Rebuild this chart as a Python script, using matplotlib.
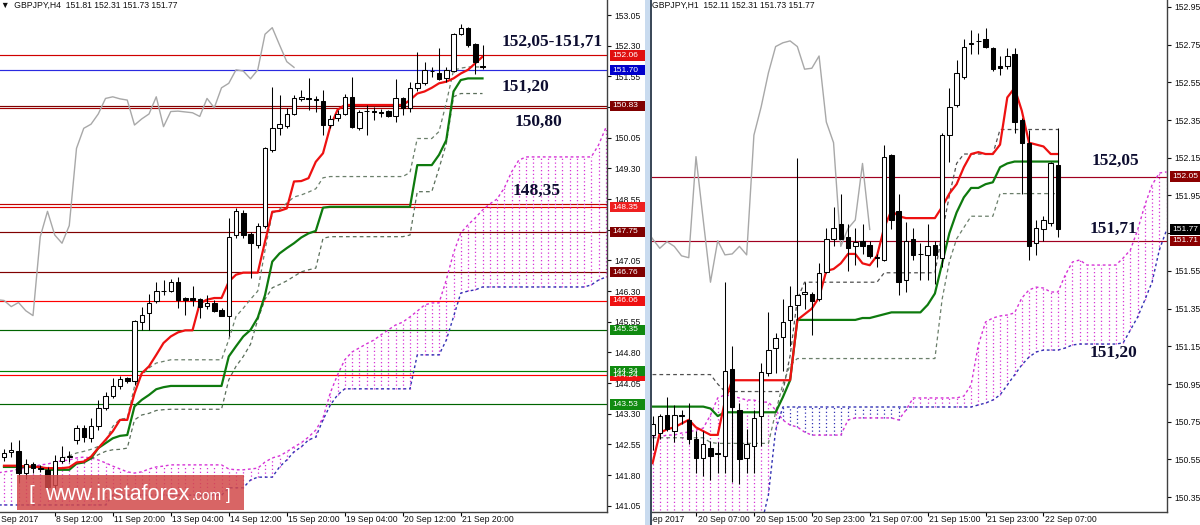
import numpy as np
import matplotlib
matplotlib.use("Agg")
import matplotlib.pyplot as plt
from matplotlib.patches import Rectangle
import matplotlib.transforms as mtransforms

plt.rcParams['font.family'] = ['Liberation Sans', 'DejaVu Sans']

# ---------------- H4 panel data (bars 1..67) ----------------
h4_open = [142.25, 142.36, 142.40, 141.85, 142.07, 141.97, 141.93, 141.55, 142.14, 142.25,
           142.66, 142.95, 142.70, 143.00, 143.45, 143.74, 143.97, 144.17, 144.09, 145.55,
           145.76, 146.05, 146.30, 146.31, 146.51, 146.12, 146.14, 146.10, 145.94, 146.02,
           145.84, 145.70, 147.67, 148.20, 147.69, 147.43, 147.88, 149.75, 150.28, 150.34,
           150.62, 151.00, 151.02, 150.99, 150.95, 150.36, 150.54, 150.63, 151.05, 150.28,
           150.70, 150.70, 150.67, 150.70, 150.57, 151.01, 150.77, 151.27, 151.38, 151.69,
           151.62, 151.50, 151.68, 152.58, 152.74, 152.33, 151.81]
h4_high = [142.45, 142.62, 142.66, 142.20, 142.13, 142.05, 142.00, 142.30, 142.52, 142.38,
           143.03, 143.03, 143.20, 143.64, 143.84, 144.17, 144.23, 144.20, 145.60, 145.92,
           146.23, 146.51, 146.56, 146.59, 146.64, 146.16, 146.43, 146.13, 146.21, 146.09,
           145.88, 148.08, 148.33, 148.28, 147.75, 147.96, 149.83, 151.30, 151.09, 150.77,
           151.09, 151.22, 151.50, 151.08, 151.22, 150.60, 150.73, 151.13, 151.54, 150.73,
           150.85, 150.81, 150.75, 150.72, 151.49, 151.05, 151.42, 152.15, 151.91, 151.79,
           152.24, 151.79, 152.60, 152.82, 152.76, 152.36, 152.31]
h4_low = [142.15, 142.25, 141.60, 141.70, 141.85, 141.88, 141.45, 141.45, 142.09, 142.13,
          142.57, 142.62, 142.62, 142.91, 143.40, 143.68, 143.90, 144.05, 144.00, 145.35,
          145.35, 146.00, 146.21, 146.27, 145.88, 145.72, 145.94, 145.64, 145.86, 145.80,
          145.68, 145.19, 147.59, 147.60, 146.61, 147.35, 147.83, 149.71, 150.12, 150.28,
          150.60, 150.95, 150.73, 150.69, 150.12, 150.28, 150.46, 150.60, 150.28, 150.24,
          150.12, 150.48, 150.55, 150.56, 150.44, 150.60, 150.69, 151.18, 151.34, 151.54,
          151.46, 151.42, 151.66, 152.56, 152.28, 151.60, 151.73]
h4_close = [142.35, 142.42, 141.85, 142.08, 141.97, 141.95, 141.52, 142.15, 142.25, 142.27,
            142.95, 142.74, 143.00, 143.44, 143.74, 143.98, 144.15, 144.09, 145.56, 145.72,
            146.02, 146.31, 146.31, 146.53, 146.09, 146.09, 146.07, 145.92, 146.02, 145.82,
            145.70, 147.63, 148.25, 147.67, 147.47, 147.90, 149.79, 150.28, 150.38, 150.63,
            151.01, 151.05, 151.00, 150.97, 150.36, 150.51, 150.63, 151.05, 150.32, 150.69,
            150.70, 150.68, 150.66, 150.57, 151.01, 150.78, 151.27, 151.38, 151.71, 151.68,
            151.49, 151.71, 152.58, 152.74, 152.32, 151.91, 151.77]
h4_tenkan = [142.03, 142.03, 142.03, 142.01, 142.01, 141.99, 141.97, 141.97, 141.97, 141.99,
             142.11, 142.13, 142.25, 142.46, 142.66, 142.87, 143.15, 143.15, 143.80, 144.29,
             144.46, 144.74, 145.03, 145.19, 145.29, 145.34, 145.34, 146.00, 146.09, 146.13,
             146.13, 146.53, 146.70, 146.75, 146.75, 146.75, 147.51, 148.24, 148.26, 148.32,
             148.98, 148.99, 149.06, 149.46, 149.67, 150.32, 150.73, 150.85, 150.85, 150.85,
             150.85, 150.85, 150.85, 150.85, 150.85, 150.85, 150.97, 151.13, 151.18, 151.27,
             151.38, 151.42, 151.50, 151.62, 151.71, 151.87, 152.03]
h4_kijun = [142.00, 142.00, 142.00, 142.00, 142.00, 142.00, 141.93, 141.93, 141.93, 141.93,
            142.08, 142.11, 142.21, 142.46, 142.58, 142.70, 142.76, 142.78, 143.48, 143.64,
            143.76, 143.90, 143.95, 143.98, 143.98, 143.98, 143.98, 143.98, 143.98, 143.98,
            143.98, 144.70, 144.95, 145.19, 145.35, 145.65, 146.20, 147.02, 147.22, 147.35,
            147.47, 147.61, 147.71, 147.77, 148.34, 148.36, 148.36, 148.36, 148.36, 148.36,
            148.36, 148.36, 148.36, 148.36, 148.36, 148.36, 148.36, 149.38, 149.38, 149.38,
            149.63, 149.99, 151.18, 151.46, 151.50, 151.50, 151.50]
# cloud, bars 0..84
h4_span_a = [141.85, 141.88, 141.90, 141.95, 141.97, 142.00, 142.05, 142.07, 142.12, 142.15,
             142.17, 142.22, 142.24, 142.22, 142.17, 142.10, 142.02, 141.95, 141.88, 141.85,
             141.88, 141.95, 142.00, 142.02, 142.05, 142.05, 142.05, 142.05, 142.05, 142.05,
             142.05, 142.05, 141.95, 141.93, 141.93, 141.95, 141.97, 142.12, 142.22, 142.27,
             142.37, 142.49, 142.59, 142.73, 142.90, 143.20, 143.81, 144.25, 144.62, 144.81,
             144.91, 145.01, 145.10, 145.23, 145.35, 145.47, 145.54, 145.67, 145.81, 145.96,
             146.01, 146.01, 146.57, 147.23, 147.72, 147.92, 148.09, 148.28, 148.43, 148.55,
             148.82, 149.21, 149.50, 149.58, 149.58, 149.58, 149.58, 149.58, 149.58, 149.58,
             149.58, 149.58, 149.58, 149.87, 150.29]
h4_span_b = ([141.07] * 16 + [141.31] * 16 + [141.49] * 3 + [141.68] + [141.75] * 3 +
             [142.00, 142.17, 142.37, 142.49, 142.66, 142.73, 143.15, 143.51, 143.76] +
             [143.91] * 10 + [144.74] * 4 + [145.10, 145.67, 146.25, 146.30, 146.33] +
             [146.40] * 15 + [146.45, 146.57, 146.64])
# dashed lines (upper from bar 9, lower from bar 13)
h4_dash_upper = [142.21, 142.27, 142.34, 142.38, 142.43, 142.50, 142.62, 142.99, 143.17, 143.19,
                 143.97, 144.25, 144.42, 144.54, 144.58, 144.62, 144.62, 144.62, 144.62, 144.62,
                 144.62, 144.62, 144.62, 145.11, 145.68, 145.88, 146.10, 146.30, 147.30, 148.20,
                 148.30, 148.45, 148.60, 148.65, 148.72, 148.80, 149.07, 149.10, 149.10, 149.10,
                 149.10, 149.10, 149.10, 149.10, 149.10, 149.10, 149.10, 149.10, 149.20, 150.03,
                 150.03, 150.03, 150.20, 150.90, 151.70, 151.75, 151.78, 151.78, 151.78]
h4_dash_lower = [142.19, 142.30, 142.38, 142.42, 142.43, 142.46, 143.15, 143.27, 143.31, 143.38,
                 143.40, 143.41, 143.41, 143.41, 143.41, 143.41, 143.41, 143.41, 143.41, 144.13,
                 144.46, 144.70, 145.00, 145.60, 146.10, 146.38, 146.46, 146.55, 146.66, 146.77,
                 146.82, 146.86, 147.59, 147.63, 147.63, 147.63, 147.63, 147.63, 147.63, 147.63,
                 147.63, 147.63, 147.63, 147.63, 147.67, 148.73, 148.73, 148.73, 149.30, 149.90,
                 151.05, 151.13, 151.13, 151.13, 151.13]
h4_levels = [152.06, 151.70, 150.83, 150.77, 148.42, 148.35, 147.75, 146.76, 146.06,
             145.35, 144.34, 144.24, 143.53]
h4_level_colors = ['#d00000', '#2a2ae0', '#800000', '#a00000', '#c00000', '#e00000', '#800000',
                   '#800000', '#ff0000', '#006400', '#008000', '#ff0000', '#006400']
h4_tag_values = [152.06, 151.70, 150.83, 148.35, 147.75, 146.76, 146.06, 145.35, 144.24, 144.34, 143.53]
h4_tag_colors = ['#e01010', '#0000cc', '#800000', '#ee2020', '#800000', '#800000', '#ee1010',
                 '#108a10', '#ee1010', '#108a10', '#108a10']
h4_yticks = [141.05, 141.80, 142.55, 143.30, 144.05, 144.80, 145.55, 146.30, 147.05, 147.80,
             148.55, 149.30, 150.05, 150.80, 151.55, 152.30, 153.05]
h4_hidden_ticks = [147.80, 150.80]
h4_xlabels = ['8 Sep 12:00', '11 Sep 20:00', '13 Sep 04:00', '14 Sep 12:00', '15 Sep 20:00',
              '19 Sep 04:00', '20 Sep 12:00', '21 Sep 20:00']
h4_notes = ['152,05-151,71', '151,20', '150,80', '148,35']

# ---------------- H1 panel data (bars -6..50) ----------------
h1_open = [150.68, 150.69, 150.785, 150.70, 150.78, 150.76, 150.66, 150.56, 150.61, 150.585,
           150.57, 151.03, 150.81, 150.555, 150.62, 150.78, 151.01, 151.14, 151.20, 151.29,
           151.37, 151.43, 151.43, 151.40, 151.545, 151.72, 151.80, 151.73, 151.68, 151.71,
           151.69, 151.625, 151.61, 152.165, 151.87, 151.50, 151.72, 151.64, 151.635, 151.69,
           151.62, 152.27, 152.43, 152.58, 152.755, 152.77, 152.78, 152.73, 152.635, 152.635,
           152.70, 152.35, 152.23, 151.70, 151.77, 151.806, 152.11]
h1_high = [150.78, 150.79, 150.88, 150.84, 150.81, 150.85, 150.70, 150.70, 150.65, 150.64,
           151.49, 151.15, 150.85, 150.71, 150.81, 151.06, 151.33, 151.22, 151.40, 151.47,
           152.15, 151.49, 151.44, 151.59, 151.78, 151.89, 151.96, 151.80, 151.78, 151.80,
           151.71, 151.64, 152.22, 152.17, 151.96, 151.81, 151.78, 151.70, 151.80, 151.71,
           152.28, 152.52, 152.67, 152.78, 152.83, 152.81, 152.84, 152.74, 152.69, 152.73,
           152.73, 152.36, 152.30, 151.82, 151.84, 152.13, 152.31]
h1_low = [150.60, 150.66, 150.70, 150.64, 150.74, 150.63, 150.48, 150.46, 150.44, 150.48,
          150.48, 150.43, 150.42, 150.48, 150.48, 150.62, 150.99, 151.01, 151.02, 151.15,
          151.29, 151.35, 151.21, 151.39, 151.54, 151.68, 151.72, 151.55, 151.58, 151.64,
          151.62, 151.57, 151.60, 151.77, 151.42, 151.44, 151.61, 151.50, 151.50, 151.48,
          151.57, 152.13, 152.42, 152.57, 152.70, 152.70, 152.73, 152.61, 152.59, 152.62,
          152.28, 151.96, 151.61, 151.635, 151.71, 151.79, 151.73]
h1_close = [150.74, 150.78, 150.71, 150.785, 150.785, 150.66, 150.56, 150.63, 150.57, 150.58,
            151.02, 150.83, 150.55, 150.63, 150.77, 151.015, 151.13, 151.195, 151.28, 151.365,
            151.42, 151.44, 151.39, 151.54, 151.72, 151.78, 151.72, 151.67, 151.705, 151.68,
            151.63, 151.62, 152.156, 151.82, 151.49, 151.71, 151.635, 151.64, 151.68, 151.635,
            152.27, 152.42, 152.60, 152.74, 152.76, 152.77, 152.74, 152.62, 152.625, 152.69,
            152.34, 152.23, 151.68, 151.775, 151.82, 152.12, 151.77]
h1_tenkan = [150.53, 150.69, 150.71, 150.72, 150.74, 150.76, 150.72, 150.70, 150.68, 150.68,
             150.86, 150.97, 150.97, 150.97, 150.97, 150.97, 150.97, 150.97, 150.97, 150.97,
             151.29, 151.32, 151.35, 151.41, 151.55, 151.56, 151.59, 151.64, 151.64, 151.59,
             151.58, 151.63, 151.78, 151.87, 151.84, 151.83, 151.83, 151.83, 151.83, 151.83,
             151.89, 151.96, 152.01, 152.10, 152.17, 152.18, 152.17, 152.17, 152.22, 152.47,
             152.52, 152.40, 152.23, 152.22, 152.21, 152.17, 152.17]
h1_kijun = ([150.83] * 8 + [150.82, 150.78] + [150.80] * 8 + [150.88, 150.97] +
            [151.29] * 9 + [151.30, 151.30, 151.31, 151.32] + [151.33] * 5 + [151.37, 151.43] +
            [151.59, 151.75, 151.86, 151.94, 151.99, 151.99, 152.01, 152.02, 152.10, 152.12] +
            [152.13] * 7)
h1_dash_upper = ([151.00] * 9 + [150.95] + [150.91] * 9 + [151.10] + [151.40] + [151.49] * 11 +
                 [151.54] * 8 + [151.75, 151.95, 152.12] + [152.17] * 5 + [152.30] * 9)
h1_dash_lower = ([150.665] * 8 + [150.64] + [150.635] * 8 + [150.80, 150.95, 151.05] +
                 [151.085] * 20 + [151.40, 151.60, 151.72, 151.78] + [151.84] * 4 + [151.96] * 9)
# cloud, bars -6..65
h1_span_a = [150.669, 150.669, 150.679, 150.679, 150.690, 150.695, 150.706, 150.716, 150.785, 150.876,
             150.892, 150.886, 150.876, 150.865, 150.865, 150.854, 150.854, 150.812, 150.759, 150.732,
             150.722, 150.695, 150.679, 150.679, 150.679, 150.679, 150.679, 150.759, 150.770, 150.770,
             150.770, 150.770, 150.770, 150.770, 150.759, 150.812, 150.876, 150.876, 150.876, 150.876,
             150.876, 150.876, 150.876, 150.886, 150.945, 151.157, 151.279, 151.300, 151.311, 151.316,
             151.327, 151.406, 151.449, 151.464, 151.459, 151.438, 151.438, 151.528, 151.597, 151.608,
             151.581, 151.581, 151.581, 151.581, 151.581, 151.618, 151.661, 151.767, 151.899, 152.006,
             152.069, 152.075]
h1_span_b = ([150.20] * 16 + [150.361, 150.706] + [150.828] * 27 +
             [150.839, 150.849, 150.865, 150.892, 150.945, 150.998, 151.051, 151.093, 151.120] +
             [151.130] * 3 + [151.141, 151.157] + [151.162] * 6 +
             [151.168, 151.236, 151.305, 151.396, 151.491, 151.661, 151.767])
h1_levels = [152.05, 151.71]
h1_tag_values = [152.05, 151.77, 151.71]
h1_tag_colors = ['#8b0000', '#000000', '#8b0000']
h1_yticks = [150.35, 150.55, 150.75, 150.95, 151.15, 151.35, 151.55, 151.75, 151.95,
             152.15, 152.35, 152.55, 152.75, 152.95]
h1_hidden_ticks = [151.75]
h1_xlabels = ['20 Sep 07:00', '20 Sep 15:00', '20 Sep 23:00', '21 Sep 07:00',
              '21 Sep 15:00', '21 Sep 23:00', '22 Sep 07:00']
h1_notes = ['152,05', '151,71', '151,20']

# ---------------- figure ----------------
W, H = 1200, 525
fig = plt.figure(figsize=(W / 100, H / 100), dpi=100)
fig.patch.set_facecolor('white')


def px_axes(x0, x1, ytop=0, ybot=512):
    return fig.add_axes([x0 / W, (H - ybot) / H, (x1 - x0) / W, (ybot - ytop) / H])


axL = px_axes(0, 607)
axR = px_axes(651, 1167)

MAG = '#d633d6'
BLU = '#3232b4'


def draw_candles(ax, x, o, h, l, c, width=0.62):
    o, h, l, c = map(np.asarray, (o, h, l, c))
    ax.vlines(x, l, h, colors='black', lw=0.75, zorder=5)
    up = c >= o
    ax.bar(x, np.abs(c - o), width, np.minimum(o, c),
           color=np.where(up, 'white', 'black'), edgecolor='black', lw=0.75, zorder=6)


def draw_cloud(ax, x, a, b):
    a = np.asarray(a)
    b = np.asarray(b)
    cols = np.where(a >= b, MAG, BLU)
    ax.vlines(x, np.minimum(a, b), np.maximum(a, b), colors=cols,
              linestyles=(0, (1, 2)), lw=0.9, zorder=2)
    ax.plot(x, a, color=MAG, ls=(0, (2, 2)), lw=1.0, zorder=2)
    ax.plot(x, b, color=BLU, ls=(0, (2, 2)), lw=1.0, zorder=2)


def style_axes(ax, yticks, hidden):
    ax.set_facecolor('white')
    for s in ('top', 'left'):
        ax.spines[s].set_visible(False)
    for s in ('right', 'bottom'):
        ax.spines[s].set_color('#404040')
        ax.spines[s].set_linewidth(1.0)
    ax.yaxis.tick_right()
    ax.set_yticks(yticks)
    ax.set_yticklabels(['' if v in hidden else f'{v:.2f}' for v in yticks])
    ax.tick_params(axis='y', direction='out', length=3, width=0.8, pad=2,
                   labelsize=6.2, colors='#101010')
    ax.tick_params(axis='x', direction='out', length=3, width=0.8, labelbottom=False)


def x_labels(ax, pos, labels):
    for p, t in zip(pos, labels):
        ax.annotate(t, xy=(p, 0), xycoords=('data', 'axes fraction'), xytext=(1.2, -2.5),
                    textcoords='offset points', ha='left', va='top', fontsize=6.2,
                    color='#101010', annotation_clip=False)


def tags(ax, values, colors, x0px, wpx):
    tr = mtransforms.blended_transform_factory(fig.transFigure, ax.transData)
    y0, y1 = ax.get_ylim()
    dy = 10.4 * (y1 - y0) / 512
    for v, c in zip(values, colors):
        ax.add_patch(Rectangle((x0px / W, v - dy / 2), wpx / W, dy, transform=tr, fc=c,
                               ec='none', clip_on=False, zorder=20))
        ax.text((x0px + 2) / W, v, f'{v:.2f}', transform=tr, ha='left', va='center',
                fontsize=6.0, color='white', clip_on=False, zorder=21)


NOTE_FONT = dict(family='Liberation Serif', fontweight='bold', fontsize=12.5, color='#0d0d30',
                 ha='center', va='center', zorder=30)

# ---------- left (H4) ----------
xL = np.arange(1, 1 + len(h4_close))
axL.set_xlim(0.448, 84.17)
axL.set_ylim(140.898, 153.417)
for v, c in zip(h4_levels, h4_level_colors):
    axL.axhline(v, color=c, lw=0.85, zorder=1)
draw_cloud(axL, np.arange(0, len(h4_span_a)), h4_span_a, h4_span_b)
axL.plot(xL - 26, h4_close, color='#a8a8a8', lw=1.0, zorder=3)
axL.plot(np.arange(9, 9 + len(h4_dash_upper)), h4_dash_upper, color='#6b7f6b',
         ls=(0, (3, 2.5)), lw=0.9, zorder=3)
axL.plot(np.arange(13, 13 + len(h4_dash_lower)), h4_dash_lower, color='#5a6e5a',
         ls=(0, (3, 2.5)), lw=0.9, zorder=3)
axL.plot(xL, h4_kijun, color='#0e7a0e', lw=1.6, zorder=4)
axL.plot(xL, h4_tenkan, color='#ee1111', lw=1.6, zorder=4)
draw_candles(axL, xL, h4_open, h4_high, h4_low, h4_close)
style_axes(axL, h4_yticks, h4_hidden_ticks)
h4_tick_pos = [8, 16, 24, 32, 40, 48, 56, 64]
axL.set_xticks(h4_tick_pos)
x_labels(axL, h4_tick_pos, h4_xlabels)
axL.annotate('7 Sep 2017', xy=(-0.6, 0), xycoords=('data', 'axes fraction'), xytext=(1.2, -2.5),
             textcoords='offset points', ha='left', va='top', fontsize=6.2, color='#101010',
             annotation_clip=False)
tags(axL, h4_tag_values, h4_tag_colors, 610, 35)
axL.text(76.6, 152.39, h4_notes[0], **NOTE_FONT)
axL.text(72.9, 151.29, h4_notes[1], **NOTE_FONT)
axL.text(74.7, 150.43, h4_notes[2], **NOTE_FONT)
axL.text(74.5, 148.75, h4_notes[3], **NOTE_FONT)

# ---------- right (H1) ----------
xR = np.arange(-6, -6 + len(h1_close))
axR.set_xlim(-6.215, 65.06)
axR.set_ylim(150.271, 152.987)
for v in h1_levels:
    axR.axhline(v, color='#a00020', lw=0.85, zorder=1)
draw_cloud(axR, np.arange(-6, -6 + len(h1_span_a)), h1_span_a, h1_span_b)
axR.plot(xR - 26, h1_close, color='#a8a8a8', lw=1.0, zorder=3)
axR.plot(xR, h1_dash_upper, color='#505050', ls=(0, (3, 2.5)), lw=0.9, zorder=3)
axR.plot(xR, h1_dash_lower, color='#6b7f6b', ls=(0, (3, 2.5)), lw=0.9, zorder=3)
axR.plot(xR, h1_kijun, color='#0e7a0e', lw=1.6, zorder=4)
axR.plot(xR, h1_tenkan, color='#ee1111', lw=1.6, zorder=4)
draw_candles(axR, xR, h1_open, h1_high, h1_low, h1_close)
style_axes(axR, h1_yticks, h1_hidden_ticks)
h1_tick_pos = [0, 8, 16, 24, 32, 40, 48]
axR.set_xticks(h1_tick_pos)
x_labels(axR, h1_tick_pos, h1_xlabels)
first = axR.annotate('20 Sep 2017', xy=(-8.6, 0), xycoords=('data', 'axes fraction'),
                     xytext=(1.2, -2.5), textcoords='offset points', ha='left', va='top',
                     fontsize=6.2, color='#101010', annotation_clip=False)
first.set_clip_path(Rectangle((651 / W, 0), 1, 1, transform=fig.transFigure))
tags(axR, h1_tag_values, h1_tag_colors, 1170, 30)
axR.text(57.9, 152.133, h1_notes[0], **NOTE_FONT)
axR.text(57.6, 151.772, h1_notes[1], **NOTE_FONT)
axR.text(57.6, 151.114, h1_notes[2], **NOTE_FONT)

# ---------- titles, separator, watermark ----------
fig.text(1 / W, 1 - 1 / H, '\u25bc  GBPJPY,H4  151.81 152.31 151.73 151.77', fontsize=6.2,
         ha='left', va='top', color='#101010')
fig.text(652 / W, 1 - 1 / H, 'GBPJPY,H1  152.11 152.31 151.73 151.77', fontsize=6.2,
         ha='left', va='top', color='#101010')
fig.add_artist(Rectangle((645 / W, 0), 5 / W, 1, transform=fig.transFigure,
                         fc='#c9dbef', ec='none', zorder=5))
fig.add_artist(Rectangle((650 / W, 0), 1.5 / W, 1, transform=fig.transFigure,
                         fc='#3c4a5a', ec='none', zorder=5))
fig.add_artist(Rectangle((17 / W, 15 / H), 227 / W, 35 / H, transform=fig.transFigure,
                         fc='#d24a4a', ec='none', alpha=0.85, zorder=6))
fig.text(28 / W, 1 - 500 / H, '[', fontsize=15, color='white', ha='left', va='baseline', zorder=7)
fig.text(45 / W, 1 - 500 / H, 'www.instaforex', fontsize=15.5, color='white', ha='left',
         va='baseline', zorder=7)
fig.text(192 / W, 1 - 500 / H, '.com', fontsize=10, color='white', ha='left', va='baseline', zorder=7)
fig.text(226 / W, 1 - 500 / H, ']', fontsize=12, color='white', ha='left', va='baseline', zorder=7)

fig.savefig('out.png', dpi=100, facecolor='white')
